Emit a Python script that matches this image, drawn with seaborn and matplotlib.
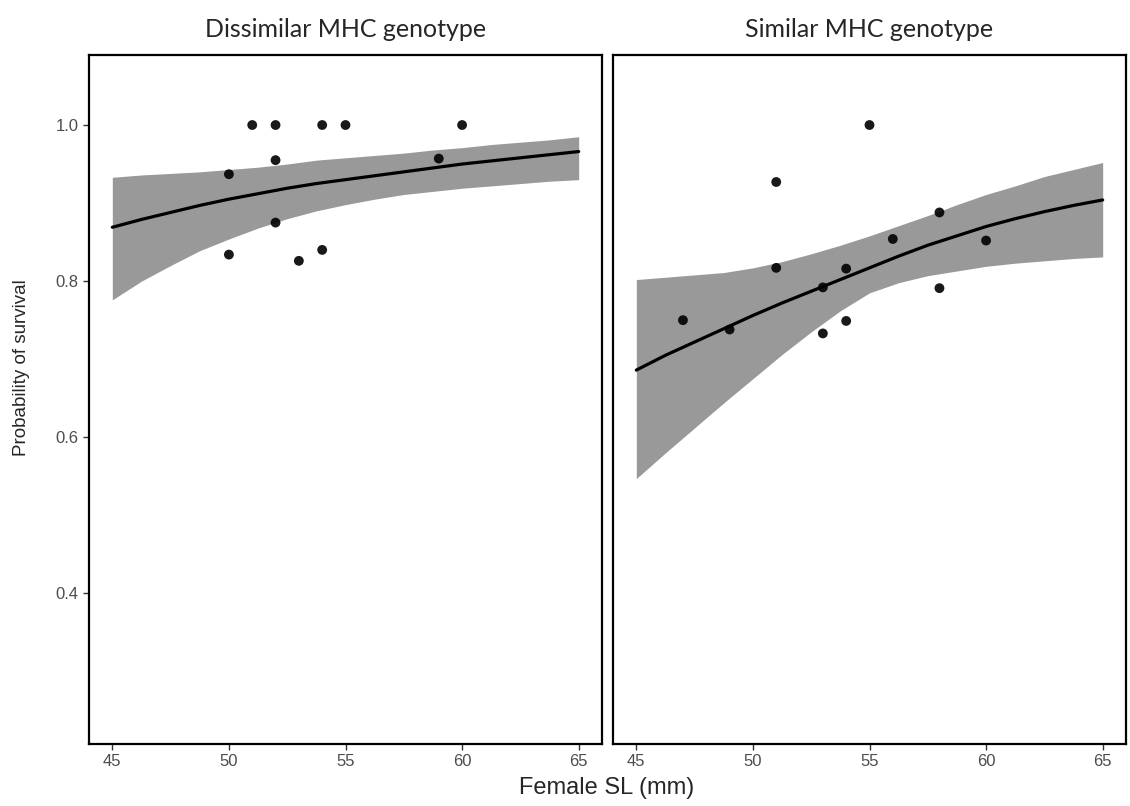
"""Survival probability vs female SL, by MHC genotype similarity"""

import matplotlib
matplotlib.use("Agg")
import matplotlib.pyplot as plt
import seaborn as sns
import pandas as pd

sns.set_theme(style="ticks")
plt.rcParams['font.family'] = ['Liberation Sans', 'DejaVu Sans']

panels = ["Dissimilar MHC genotype", "Similar MHC genotype"]

# observed points (female SL, proportion surviving)
dis_sl = [50, 50, 51, 52, 52, 52, 53, 54, 54, 55, 59, 60]
dis_surv = [0.937, 0.834, 1.0, 1.0, 0.955, 0.875, 0.826, 1.0, 0.840, 1.0, 0.957, 1.0]
sim_sl = [47, 49, 51, 51, 53, 53, 54, 54, 55, 56, 58, 58, 60]
sim_surv = [0.750, 0.738, 0.927, 0.817, 0.792, 0.733, 0.816, 0.749, 1.0, 0.854, 0.888, 0.791, 0.852]

# fitted curve + confidence band
fit_sl = [45, 46.25, 47.5, 48.75, 50, 51.25, 52.5, 53.75, 55,
          56.25, 57.5, 58.75, 60, 61.25, 62.5, 63.75, 65]
dis_fit = [0.869, 0.879, 0.888, 0.897, 0.905, 0.912, 0.919, 0.925, 0.930,
           0.935, 0.940, 0.945, 0.950, 0.954, 0.958, 0.962, 0.966]
dis_lo = [0.776, 0.800, 0.820, 0.839, 0.854, 0.868, 0.880, 0.890, 0.898,
          0.905, 0.911, 0.915, 0.919, 0.922, 0.925, 0.928, 0.930]
dis_hi = [0.933, 0.936, 0.938, 0.940, 0.943, 0.946, 0.950, 0.955, 0.958,
          0.961, 0.964, 0.968, 0.971, 0.975, 0.978, 0.981, 0.985]
sim_fit = [0.686, 0.705, 0.722, 0.739, 0.756, 0.772, 0.787, 0.802, 0.817,
           0.832, 0.846, 0.858, 0.870, 0.880, 0.889, 0.897, 0.904]
sim_lo = [0.547, 0.580, 0.612, 0.644, 0.675, 0.706, 0.735, 0.762, 0.785,
          0.798, 0.807, 0.813, 0.819, 0.823, 0.826, 0.829, 0.831]
sim_hi = [0.802, 0.805, 0.808, 0.811, 0.817, 0.825, 0.835, 0.846, 0.858,
          0.871, 0.884, 0.898, 0.911, 0.922, 0.934, 0.943, 0.952]

pts = {panels[0]: pd.DataFrame({'sl': dis_sl, 'surv': dis_surv}),
       panels[1]: pd.DataFrame({'sl': sim_sl, 'surv': sim_surv})}
fits = {panels[0]: pd.DataFrame({'sl': fit_sl, 'fit': dis_fit, 'lo': dis_lo, 'hi': dis_hi}),
        panels[1]: pd.DataFrame({'sl': fit_sl, 'fit': sim_fit, 'lo': sim_lo, 'hi': sim_hi})}

W, H = 1130, 806
fig = plt.figure(figsize=(W / 100, H / 100), dpi=100)
boxes = [(89, 55, 513, 689), (613, 55, 513, 689)]  # px: left, top, width, height

for i, name in enumerate(panels):
    x0, y0, w, h = boxes[i]
    ax = fig.add_axes([x0 / W, 1 - (y0 + h) / H, w / W, h / H])
    f = fits[name]
    ax.fill_between(f['sl'], f['lo'], f['hi'], color='#999999', lw=0, zorder=1)
    sns.lineplot(data=f, x='sl', y='fit', color='black', lw=2.3, ax=ax, zorder=2)
    sns.scatterplot(data=pts[name], x='sl', y='surv', color='black', s=50,
                    edgecolor='none', ax=ax, zorder=3, alpha=0.9)
    ax.set_xlim(44, 66)
    ax.set_ylim(0.207, 1.0897)
    ax.set_xticks([45, 50, 55, 60, 65])
    ax.set_yticks([0.4, 0.6, 0.8, 1.0])
    ax.set_xlabel('')
    ax.set_ylabel('')
    for s in ax.spines.values():
        s.set_visible(True)
        s.set_color('black')
        s.set_linewidth(1.6)
    ax.tick_params(colors='#333333', labelcolor='#4D4D4D', labelsize=12,
                   length=4, width=1)
    if i == 1:
        ax.set_yticklabels([])
        ax.tick_params(axis='y', length=0)
    else:
        ax.set_yticklabels(['0.4', '0.6', '0.8', '1.0'])
    ax.set_title(name, fontsize=18, family=['Lato', 'DejaVu Sans'], pad=13)

fig.text(607 / W, 1 - 788 / H, 'Female SL (mm)', ha='center', va='center', fontsize=17)
fig.text(22 / W, 1 - 368 / H, 'Probability of survival', ha='center', va='center',
         rotation=90, fontsize=13.5)

fig.savefig('out.png', dpi=100)
